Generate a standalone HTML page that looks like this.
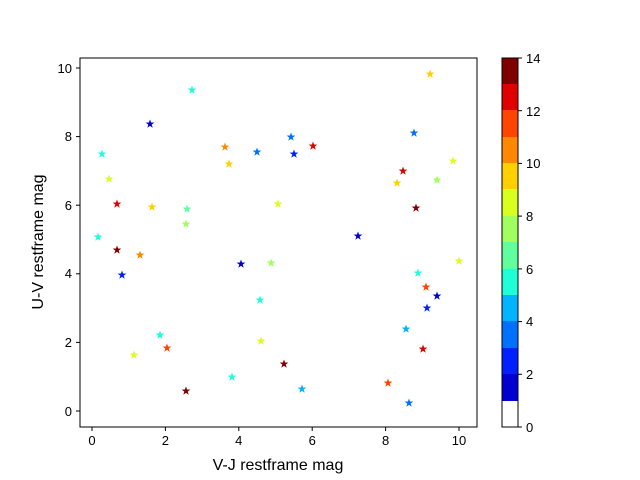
<!DOCTYPE html><html><head><style>body{margin:0;background:#fff}svg{display:block}text{font-family:"Liberation Sans",sans-serif;fill:#000}</style></head><body>
<svg width="640" height="480" xmlns="http://www.w3.org/2000/svg">
<defs><polygon id="s" points="0,-4.5 1.1,-1.5 4.3,-1.4 1.7,0.6 2.7,3.7 0,1.9 -2.7,3.7 -1.7,0.6 -4.3,-1.4 -1.1,-1.5"/></defs>
<rect x="80" y="58" width="397" height="369" fill="none" stroke="#000"/>
<g stroke="#000">
<line x1="92" y1="427" x2="92" y2="431"/><line x1="165.4" y1="427" x2="165.4" y2="431"/><line x1="238.8" y1="427" x2="238.8" y2="431"/><line x1="312.2" y1="427" x2="312.2" y2="431"/><line x1="385.6" y1="427" x2="385.6" y2="431"/><line x1="459" y1="427" x2="459" y2="431"/>
<line x1="76" y1="411" x2="80" y2="411"/><line x1="76" y1="342.4" x2="80" y2="342.4"/><line x1="76" y1="273.8" x2="80" y2="273.8"/><line x1="76" y1="205.2" x2="80" y2="205.2"/><line x1="76" y1="136.6" x2="80" y2="136.6"/><line x1="76" y1="68" x2="80" y2="68"/>
</g>
<g font-size="13" text-anchor="middle"><text x="92" y="445">0</text><text x="165.4" y="445">2</text><text x="238.8" y="445">4</text><text x="312.2" y="445">6</text><text x="385.6" y="445">8</text><text x="459" y="445">10</text></g>
<g font-size="13" text-anchor="end"><text x="72" y="416">0</text><text x="72" y="347">2</text><text x="72" y="278">4</text><text x="72" y="210">6</text><text x="72" y="141">8</text><text x="72" y="73">10</text></g>
<text x="278" y="470" font-size="16" text-anchor="middle">V-J restframe mag</text>
<text transform="translate(43,242) rotate(-90)" font-size="16" text-anchor="middle">U-V restframe mag</text>
<g>
<rect x="502" y="58" width="16" height="27" fill="#800000"/><rect x="502" y="84" width="16" height="27" fill="#e00000"/><rect x="502" y="110" width="16" height="27" fill="#ff4400"/><rect x="502" y="137" width="16" height="27" fill="#ff8800"/><rect x="502" y="163" width="16" height="27" fill="#ffd000"/><rect x="502" y="189" width="16" height="27" fill="#d8ff1e"/><rect x="502" y="216" width="16" height="27" fill="#a0ff5f"/><rect x="502" y="242" width="16" height="27" fill="#5fffa0"/><rect x="502" y="269" width="16" height="27" fill="#1effd8"/><rect x="502" y="295" width="16" height="27" fill="#00b4ff"/><rect x="502" y="321" width="16" height="27" fill="#0070ff"/><rect x="502" y="348" width="16" height="27" fill="#0020ff"/><rect x="502" y="374" width="16" height="27" fill="#0000d0"/>
<rect x="502" y="58" width="16" height="369" fill="none" stroke="#000"/>
</g>
<g stroke="#000"><line x1="518" y1="427" x2="522" y2="427"/><line x1="518" y1="374.3" x2="522" y2="374.3"/><line x1="518" y1="321.6" x2="522" y2="321.6"/><line x1="518" y1="268.9" x2="522" y2="268.9"/><line x1="518" y1="216.1" x2="522" y2="216.1"/><line x1="518" y1="163.4" x2="522" y2="163.4"/><line x1="518" y1="110.7" x2="522" y2="110.7"/><line x1="518" y1="58" x2="522" y2="58"/></g>
<g font-size="13"><text x="526" y="432">0</text><text x="526" y="379">2</text><text x="526" y="326">4</text><text x="526" y="274">6</text><text x="526" y="221">8</text><text x="526" y="168">10</text><text x="526" y="116">12</text><text x="526" y="63">14</text></g>
<g>
<use href="#s" x="192" y="90" fill="#1effd8"/><use href="#s" x="150" y="124" fill="#0000d0"/><use href="#s" x="102" y="154" fill="#1effd8"/><use href="#s" x="109" y="179" fill="#d8ff1e"/><use href="#s" x="117" y="204" fill="#e00000"/><use href="#s" x="152" y="207" fill="#ffd000"/><use href="#s" x="187" y="209" fill="#5fffa0"/><use href="#s" x="186" y="224" fill="#a0ff5f"/><use href="#s" x="98" y="237" fill="#1effd8"/><use href="#s" x="225" y="147" fill="#ff8800"/><use href="#s" x="257" y="152" fill="#0070ff"/><use href="#s" x="229" y="164" fill="#ffd000"/><use href="#s" x="291" y="137" fill="#0070ff"/><use href="#s" x="294" y="154" fill="#0020ff"/><use href="#s" x="313" y="146" fill="#e00000"/><use href="#s" x="278" y="204" fill="#d8ff1e"/><use href="#s" x="117" y="250" fill="#800000"/><use href="#s" x="140" y="255" fill="#ff8800"/><use href="#s" x="122" y="275" fill="#0020ff"/><use href="#s" x="241" y="264" fill="#0000d0"/><use href="#s" x="271" y="263" fill="#a0ff5f"/><use href="#s" x="358" y="236" fill="#0000d0"/><use href="#s" x="414" y="133" fill="#0070ff"/><use href="#s" x="430" y="74" fill="#ffd000"/><use href="#s" x="403" y="171" fill="#e00000"/><use href="#s" x="397" y="183" fill="#ffd000"/><use href="#s" x="453" y="161" fill="#d8ff1e"/><use href="#s" x="416" y="208" fill="#800000"/><use href="#s" x="437" y="180" fill="#a0ff5f"/><use href="#s" x="418" y="273" fill="#1effd8"/><use href="#s" x="459" y="261" fill="#d8ff1e"/><use href="#s" x="426" y="287" fill="#ff4400"/><use href="#s" x="437" y="296" fill="#0000d0"/><use href="#s" x="427" y="308" fill="#0020ff"/><use href="#s" x="406" y="329" fill="#00b4ff"/><use href="#s" x="260" y="300" fill="#1effd8"/><use href="#s" x="160" y="335" fill="#1effd8"/><use href="#s" x="167" y="348" fill="#ff4400"/><use href="#s" x="134" y="355" fill="#d8ff1e"/><use href="#s" x="261" y="341" fill="#d8ff1e"/><use href="#s" x="284" y="364" fill="#800000"/><use href="#s" x="232" y="377" fill="#1effd8"/><use href="#s" x="302" y="389" fill="#00b4ff"/><use href="#s" x="186" y="391" fill="#800000"/><use href="#s" x="388" y="383" fill="#ff4400"/><use href="#s" x="423" y="349" fill="#e00000"/><use href="#s" x="409" y="403" fill="#0070ff"/>
</g>
</svg></body></html>
